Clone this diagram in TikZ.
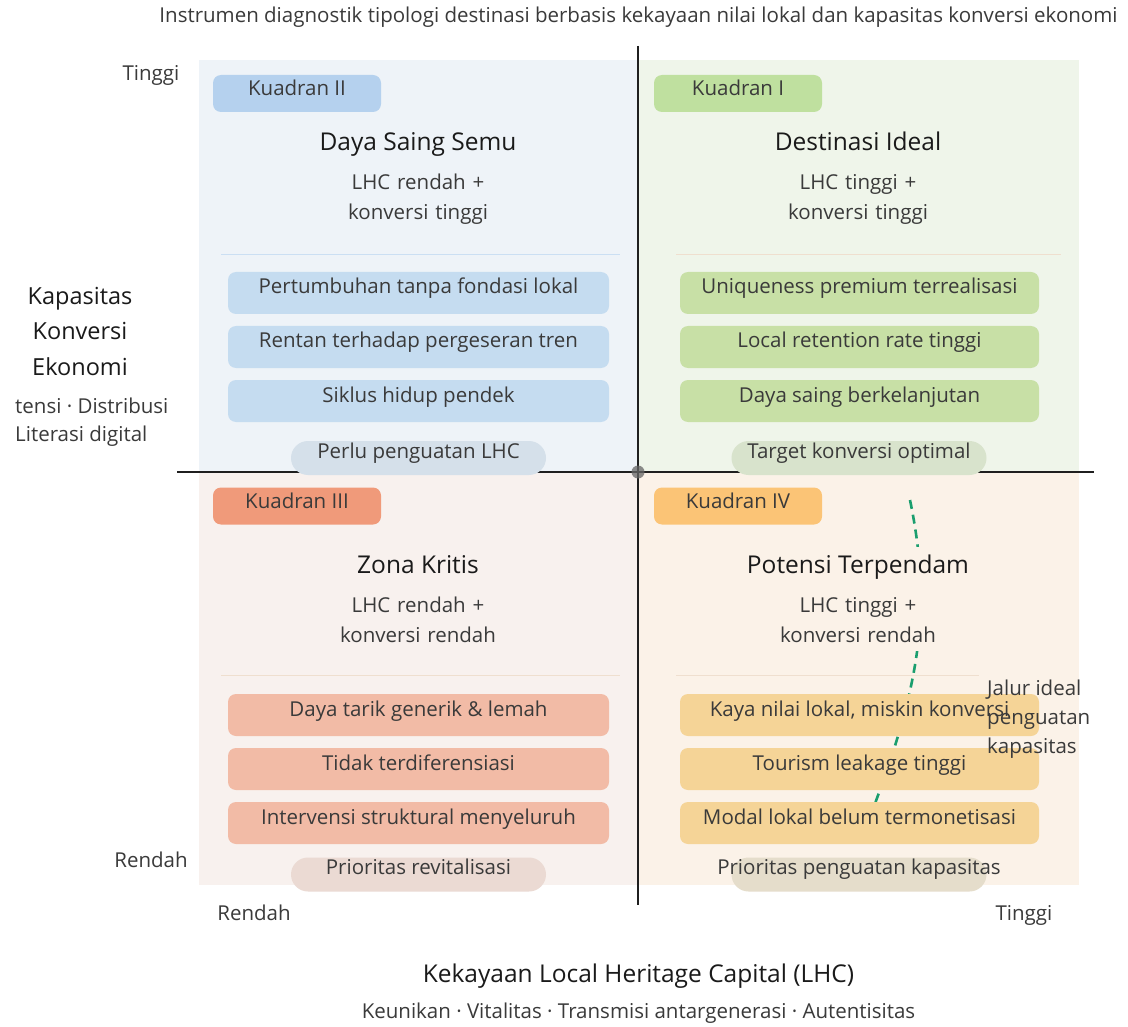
\documentclass[tikz,border=0pt]{standalone}
\usepackage{fontspec}
\setmainfont{Open Sans}
\definecolor{qabg}{HTML}{EFF5EA}
\definecolor{qbbg}{HTML}{EEF3F8}
\definecolor{qcbg}{HTML}{F8F1EE}
\definecolor{qdbg}{HTML}{FBF2E8}
\definecolor{qatag}{HTML}{BFE09F}
\definecolor{qbtag}{HTML}{B5D1EE}
\definecolor{qctag}{HTML}{F09A7A}
\definecolor{qdtag}{HTML}{FBC476}
\definecolor{qaitem}{HTML}{C8E0A6}
\definecolor{qbitem}{HTML}{C5DCF0}
\definecolor{qcitem}{HTML}{F2BBA6}
\definecolor{qditem}{HTML}{F5D497}
\definecolor{qapill}{HTML}{D8E3CC}
\definecolor{qbpill}{HTML}{D5E0EA}
\definecolor{qcpill}{HTML}{EBDAD3}
\definecolor{qdpill}{HTML}{E5DDCB}
\definecolor{txt}{HTML}{3A3A3A}
\definecolor{ttl}{HTML}{1A1A1A}
\definecolor{jalurc}{HTML}{1A9E6E}
\begin{document}
\begin{tikzpicture}[x=1pt,y=-1pt,
  base/.style={inner sep=0pt, text=txt, font=\fontsize{20.5}{24}\selectfont},
  tag/.style={base, rounded corners=8pt, minimum width=168pt, text height=21pt, text depth=16pt},
  item/.style={base, rounded corners=8pt, minimum width=381pt, text height=22pt, text depth=20pt},
  pill/.style={base, rounded corners=17pt, minimum width=255pt, text height=17pt, text depth=17pt},
  qtitle/.style={inner sep=8pt, text height=18pt, text depth=6pt, text=ttl, font=\fontsize{24.5}{28}\selectfont},
  qsub/.style={inner ysep=8pt, inner xsep=0pt, text width=185pt, align=center, text=txt, font=\fontsize{20.5}{30}\selectfont},
  lbl/.style={inner sep=0pt, text=txt, font=\fontsize{20.5}{24}\selectfont},
  axisline/.style={line width=2.5pt, draw=black!88},
  seplineb/.style={line width=0.8pt, draw=qbtag!70},
  seplinet/.style={line width=0.8pt, draw=brown!25},
  jalur/.style={line width=2.6pt, draw=jalurc, dash pattern=on 9pt off 6pt}
]
\useasboundingbox (0,0) rectangle (1128,1027);
\fill[white] (0,0) rectangle (1128,1027);
% quadrant backgrounds
\fill[qbbg] (199,60) rectangle (638,472);
\fill[qabg] (638,60) rectangle (1079,472);
\fill[qcbg] (199,472) rectangle (638,885);
\fill[qdbg] (638,472) rectangle (1079,885);
% separators
\draw[seplineb] (221,254) -- (620,254);
\draw[seplinet] (676,254) -- (1061,254);
\draw[seplinet] (221,675) -- (620,675);
\draw[seplinet] (676,675) -- (979,675);
% axes
\coordinate (vtop) at (638,46);
\coordinate (vbot) at (638,905);
\coordinate (hleft) at (177,472);
\coordinate (hright) at (1094,472);
\draw[axisline] (vtop) -- (vbot);
\draw[axisline] (hleft) -- (hright);
% ideal path
\coordinate (ja) at (910,500);
\coordinate (jb) at (865,830);
\draw[jalur] (ja) .. controls (935,620) and (915,700) .. (jb);
% tags
\node[tag, fill=qbtag] (tagII) at (297,93.5) {Kuadran II};
\node[tag, fill=qatag] (tagI) at (738,93.5) {Kuadran I};
\node[tag, fill=qctag] (tagIII) at (297,506) {Kuadran III};
\node[tag, fill=qdtag] (tagIV) at (738,506) {Kuadran IV};
% titles
\node[qtitle, fill=qbbg] (tII) at (418,145) {Daya Saing Semu};
\node[qsub, fill=qbbg] (sII) at (418,199) {LHC rendah +\\konversi tinggi};
\node[qtitle, fill=qabg] (tI) at (858,145) {Destinasi Ideal};
\node[qsub, fill=qabg] (sI) at (858,199) {LHC tinggi +\\konversi tinggi};
\node[qtitle, fill=qcbg] (tIII) at (418,567) {Zona Kritis};
\node[qsub, fill=qcbg] (sIII) at (418,620) {LHC rendah +\\konversi rendah};
\node[qtitle, fill=qdbg] (tIV) at (858,567) {Potensi Terpendam};
\node[qsub, fill=qdbg] (sIV) at (858,620) {LHC tinggi +\\konversi rendah};
% items Q2
\node[item, fill=qbitem] (b1) at (418.5,293) {Pertumbuhan tanpa fondasi lokal};
\node[item, fill=qbitem] (b2) at (418.5,347) {Rentan terhadap pergeseran tren};
\node[item, fill=qbitem] (b3) at (418.5,401) {Siklus hidup pendek};
% items Q1
\node[item, fill=qaitem, minimum width=359pt] (a1) at (859.5,293) {Uniqueness premium terrealisasi};
\node[item, fill=qaitem, minimum width=359pt] (a2) at (859.5,347) {Local retention rate tinggi};
\node[item, fill=qaitem, minimum width=359pt] (a3) at (859.5,401) {Daya saing berkelanjutan};
% items Q3
\node[item, fill=qcitem] (c1) at (418.5,715) {Daya tarik generik \& lemah};
\node[item, fill=qcitem] (c2) at (418.5,769) {Tidak terdiferensiasi};
\node[item, fill=qcitem] (c3) at (418.5,823) {Intervensi struktural menyeluruh};
% items Q4
\node[item, fill=qditem, minimum width=359pt] (d1) at (859.5,715) {Kaya nilai lokal, miskin konversi};
\node[item, fill=qditem, minimum width=359pt] (d2) at (859.5,769) {Tourism leakage tinggi};
\node[item, fill=qditem, minimum width=359pt] (d3) at (859.5,823) {Modal lokal belum termonetisasi};
% pills
\node[pill, fill=qbpill] (pII) at (418.5,458) {Perlu penguatan LHC};
\node[pill, fill=qapill] (pI) at (859,458) {Target konversi optimal};
\node[pill, fill=qcpill] (pIII) at (418.5,874.5) {Prioritas revitalisasi};
\node[pill, fill=qdpill] (pIV) at (859,874.5) {\makebox[255pt]{Prioritas penguatan kapasitas}};
% centre dot
\node[circle, fill=black!60, opacity=0.75, inner sep=0pt, minimum size=13pt] (origin) at (638,472) {};
% jalur label
\node[lbl, align=left, anchor=west, font=\fontsize{20.5}{29}\selectfont] (jlabel) at (987,719) {Jalur ideal\\penguatan\\kapasitas};
% axis labels
\node[lbl] (title) at (638.5,17) {Instrumen diagnostik tipologi destinasi berbasis kekayaan nilai lokal dan kapasitas konversi ekonomi};
\node[lbl] (ytop) at (151,75) {Tinggi};
\node[lbl] (ybot) at (151,860) {Rendah};
\node[lbl] (xleft) at (254,913) {Rendah};
\node[lbl] (xright) at (1024,915) {Tinggi};
\node[inner sep=0pt, text=ttl, align=center, font=\fontsize{23.5}{35.5}\selectfont] (ytitle) at (80,331) {Kapasitas\\Konversi\\Ekonomi};
\node[lbl, align=left, anchor=west, font=\fontsize{20.5}{28}\selectfont] (ysub) at (15,422) {tensi · Distribusi\\Literasi digital};
\node[inner sep=0pt, text=ttl, font=\fontsize{24.5}{28}\selectfont] (xtitle) at (638.5,976) {Kekayaan Local Heritage Capital (LHC)};
\node[lbl] (xsub) at (638.5,1013) {Keunikan · Vitalitas · Transmisi antargenerasi · Autentisitas};
\end{tikzpicture}
\end{document}
